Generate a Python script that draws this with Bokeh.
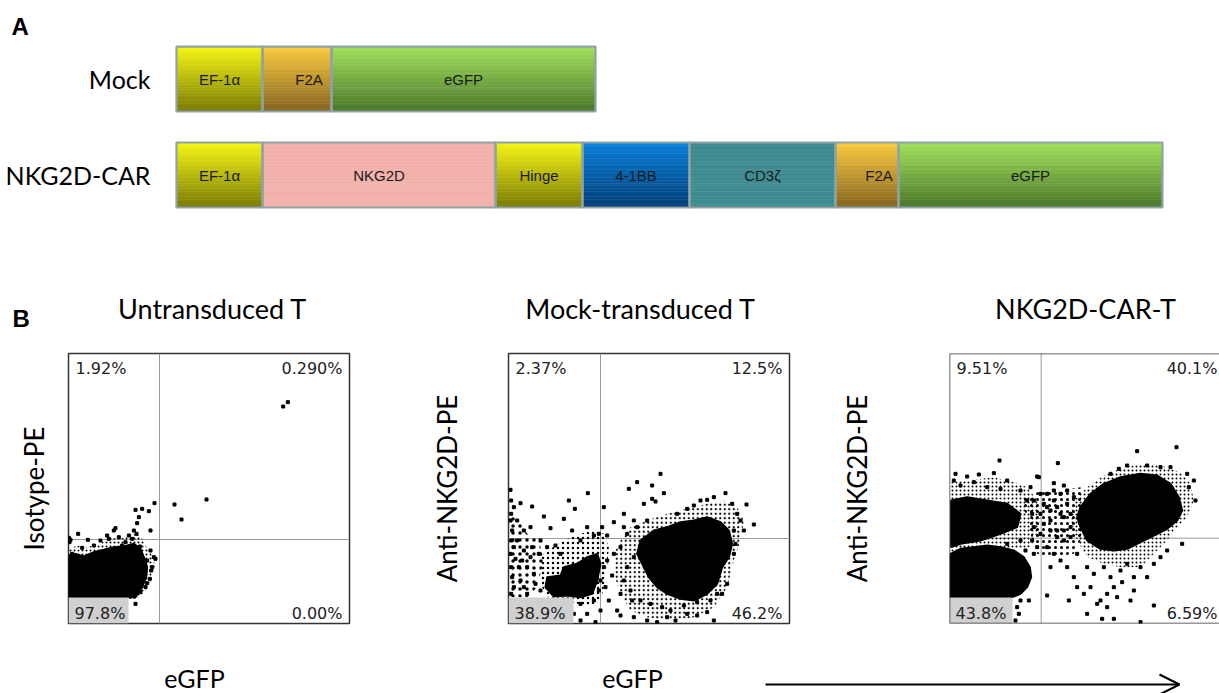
import numpy as np
from bokeh.plotting import figure
from bokeh.layouts import column, row
from bokeh.models import Range1d, Span, Arrow, OpenHead, FixedTicker
from bokeh.core.properties import value
from bokeh.embed import file_html
from bokeh.resources import INLINE

# ---------------- Panel A data (relative segment lengths) ----------------
constructs = ["Mock", "NKG2D-CAR"]
mock_segments = ["EF-1α", "F2A", "eGFP"]
mock_lengths = [86, 69, 264]
car_segments = ["EF-1α", "NKG2D", "Hinge", "4-1BB", "CD3ζ", "F2A", "eGFP"]
car_lengths = [86, 233, 87, 107, 146, 63, 264]

# ---------------- Panel B data (fluorescence channel units) ----------------
panel_titles = ["Untransduced T", "Mock-transduced T", "NKG2D-CAR-T"]
y_labels = ["Isotype-PE", "Anti-NKG2D-PE", "Anti-NKG2D-PE"]
x_label = "eGFP"
# quadrant percentages: upper-left, upper-right, lower-left, lower-right
untr_pct = ["1.92%", "0.290%", "97.8%", "0.00%"]
mock_pct = ["2.37%", "12.5%", "38.9%", "46.2%"]
car_pct = ["9.51%", "40.1%", "43.8%", "6.59%"]
gate_x = [273, 276, 275]
gate_y = [252, 255, 256]

# population outlines (eGFP, PE): speckled (medium density) and solid (dense) regions
untr_speckle_x = [1, 26, 56, 96, 126, 156, 186, 206, 221, 236, 256, 258, 248, 231, 206, 1]
untr_speckle_y = [224, 234, 229, 241, 257, 254, 264, 269, 254, 224, 199, 169, 129, 99, 74, 74]
untr_core_x = [1, 21, 46, 76, 106, 136, 166, 196, 216, 226, 236, 233, 221, 201, 1]
untr_core_y = [204, 209, 201, 214, 221, 229, 231, 239, 224, 199, 169, 139, 109, 79, 79]

mock_col_x = [2, 26, 56, 91, 106, 86, 56, 2]
mock_col_y = [329, 319, 269, 249, 189, 109, 79, 79]
mock_left_x = [91, 126, 166, 216, 256, 286, 301, 296, 286, 276, 246, 206, 156, 116, 96]
mock_left_y = [199, 224, 249, 269, 279, 269, 229, 169, 109, 69, 54, 59, 74, 79, 119]
mock_core_left_x = [111, 116, 156, 166, 206, 236, 266, 276, 266, 251, 216, 176, 136]
mock_core_left_y = [109, 139, 144, 169, 179, 199, 209, 179, 129, 89, 79, 84, 81]
mock_right_x = [336, 366, 416, 476, 536, 596, 646, 686, 706, 696, 676, 656, 616, 556, 486, 416, 366, 336, 316, 316]
mock_right_y = [249, 289, 309, 329, 344, 359, 369, 349, 309, 249, 189, 109, 49, 19, 9, 19, 39, 89, 149, 209]
mock_core_right_x = [396, 436, 476, 516, 556, 596, 636, 661, 671, 661, 641, 626, 596, 556, 516, 476, 446, 421, 401, 386]
mock_core_right_y = [249, 279, 289, 304, 309, 319, 304, 279, 239, 199, 169, 119, 89, 69, 74, 89, 109, 139, 179, 209]

car_up_x = [3, 53, 133, 193, 233, 263, 273, 263, 243, 3]
car_up_y = [424, 429, 439, 424, 409, 369, 319, 269, 229, 209]
car_core_up_x = [5, 53, 113, 173, 213, 203, 153, 93, 33, 5]
car_core_up_y = [369, 379, 369, 359, 329, 289, 269, 249, 239, 229]
car_core_low_x = [3, 33, 73, 113, 153, 193, 223, 241, 245, 233, 213, 188, 3]
car_core_low_y = [209, 224, 229, 234, 229, 219, 199, 169, 139, 109, 89, 79, 79]
car_bridge_x = [213, 273, 333, 393, 413, 403, 373, 313, 263, 243, 233]
car_bridge_y = [369, 399, 399, 409, 349, 269, 209, 199, 209, 269, 319]
car_right_x = [373, 413, 463, 513, 573, 633, 693, 723, 733, 713, 673, 653, 613, 573, 513, 463, 413, 383, 363]
car_right_y = [369, 409, 444, 464, 479, 474, 454, 419, 369, 319, 279, 249, 209, 169, 169, 179, 199, 249, 309]
car_core_right_x = [393, 423, 463, 513, 573, 623, 663, 688, 698, 683, 653, 613, 573, 533, 493, 453, 413, 393, 383]
car_core_right_y = [349, 389, 419, 439, 449, 444, 419, 379, 339, 309, 284, 264, 244, 224, 219, 224, 249, 289, 319]

# individual sparse events (eGFP, PE)
untr_events = [(29, 269), (58, 251), (141, 286), (151, 259), (116, 264), (136, 279), (201, 341), (221, 344),
               (241, 337), (258, 361), (211, 319), (206, 301), (196, 279), (246, 279), (318, 357), (339, 312),
               (414, 372), (644, 651), (658, 664), (201, 59), (256, 199), (251, 169), (244, 134), (216, 94),
               (231, 109), (6, 251), (171, 244), (96, 249), (181, 264), (191, 254), (236, 189), (226, 149),
               (261, 194), (246, 219), (204, 269), (214, 231), (41, 227), (76, 234), (121, 254), (161, 234),
               (248, 159), (236, 121), (1, 257), (3, 244), (11, 209)]
mock_events = [(6, 401), (36, 361), (71, 351), (106, 321), (126, 286), (181, 369), (199, 344), (238, 391),
               (166, 314), (191, 279), (236, 289), (286, 349), (361, 404), (386, 424), (431, 414), (456, 449),
               (466, 391), (406, 359), (431, 374), (441, 366), (651, 391), (714, 357), (736, 297), (686, 329),
               (671, 359), (616, 379), (576, 369), (596, 371), (536, 344), (506, 329), (556, 354), (346, 329),
               (376, 309), (316, 304), (281, 289), (296, 264), (271, 269), (256, 264), (216, 249), (66, 289),
               (46, 279), (26, 309), (8, 329), (8, 369), (16, 349),
               (6, 309), (11, 279), (8, 249), (16, 229), (6, 209), (21, 194), (8, 169), (31, 169), (11, 139),
               (36, 129), (16, 109), (46, 109), (8, 89), (56, 89), (26, 249), (46, 219), (66, 199), (56, 169),
               (76, 149), (81, 119), (41, 189), (71, 229), (91, 209), (96, 249), (116, 229), (141, 234),
               (156, 209), (11, 59),
               (276, 129), (286, 169), (271, 99), (256, 69), (216, 59), (196, 29), (216, 9), (236, 29), (261, 4),
               (96, 99), (116, 109), (291, 109), (301, 69), (276, 39),
               (326, 39), (336, 24), (376, 19), (416, 9), (446, 4), (476, 19), (501, 9), (536, 29), (566, 24),
               (596, 34), (616, 9), (641, 89), (656, 119), (336, 89), (346, 129), (311, 144), (296, 189),
               (316, 209), (336, 229), (356, 269), (346, 289), (386, 289), (416, 309), (676, 209), (681, 239),
               (706, 279), (696, 309), (676, 279), (371, 69), (396, 69), (426, 59), (461, 49), (486, 39),
               (526, 54), (566, 64), (606, 69), (626, 89), (366, 99), (356, 169), (376, 199)]
car_events = [(150, 489), (325, 481), (563, 517), (681, 529), (133, 451), (88, 447), (53, 441), (18, 449),
              (173, 429), (263, 441), (313, 421), (343, 414), (483, 449), (713, 449), (733, 429), (738, 369),
              (718, 409), (633, 469), (593, 474), (663, 469), (508, 464), (533, 474),
              (253, 369), (273, 389), (293, 349), (313, 369), (333, 329), (353, 359), (303, 309), (323, 279),
              (273, 269), (253, 289), (293, 229), (313, 209), (343, 249), (363, 289), (383, 209), (263, 229),
              (253, 209), (248, 249), (273, 329), (333, 389), (283, 359), (303, 339), (323, 349), (343, 319),
              (283, 299), (303, 279), (323, 259), (343, 279), (363, 259), (363, 329), (293, 389), (313, 399),
              (353, 399), (373, 379),
              (303, 169), (333, 189), (353, 169), (373, 139), (413, 169), (433, 149), (463, 169), (483, 139),
              (493, 109), (473, 89), (453, 69), (473, 49), (443, 59), (513, 159), (533, 179), (553, 139),
              (573, 169), (593, 139), (613, 179), (633, 199), (653, 219), (698, 239), (613, 54), (573, 4),
              (493, 14), (458, 14), (413, 29), (358, 69), (293, 84), (238, 69), (213, 69), (203, 49), (198, 9),
              (208, 29), (383, 109), (403, 89), (423, 109), (503, 79), (518, 124), (553, 99), (543, 69),
              (13, 429), (33, 414), (73, 424), (113, 409), (153, 404), (213, 399), (233, 369), (248, 329),
              (243, 409), (268, 439), (213, 249), (173, 239), (228, 219)]

# ---------------- styles ----------------
SEG_COLORS = {
    "EF-1α": ("#f7f715", "#7a7a03"),
    "Hinge": ("#f7f715", "#7a7a03"),
    "F2A": ("#fccb40", "#85641f"),
    "eGFP": ("#a2e25c", "#4b762a"),
    "NKG2D": ("#f2b1aa", "#f2b1aa"),
    "4-1BB": ("#0a80dc", "#003e76"),
    "CD3ζ": ("#3e8b90", "#3e8b90"),
}
BANDS = 24
BAR_H = 0.677
SEG_LINE = "#8fa3a7"
CAL = "Lato"
W_TOTAL = 1219


def hex_rgb(h):
    h = h.lstrip("#")
    return [int(h[i:i + 2], 16) for i in (0, 2, 4)]


def blend(c1, c2, t):
    a, b = hex_rgb(c1), hex_rgb(c2)
    return "#%02x%02x%02x" % tuple(int(round(a[i] + (b[i] - a[i]) * t)) for i in range(3))


def bare(p):
    p.grid.visible = False
    p.outline_line_color = None
    return p


# ---------------- Panel A (and panel-B headings) ----------------
pa = bare(figure(width=W_TOTAL, height=340, x_range=Range1d(-176, 1043), y_range=Range1d(-1.724, 1.818),
                 output_backend="svg", toolbar_location=None, min_border=0,
                 x_axis_location=None, y_axis_location=None))

row_pos = {"Mock": 1, "NKG2D-CAR": 0}
for name, segs, lens in [("Mock", mock_segments, mock_lengths), ("NKG2D-CAR", car_segments, car_lengths)]:
    yc = row_pos[name]
    rights = np.cumsum(lens).astype(float)
    lefts = rights - np.array(lens, dtype=float)
    L, R, T, B, C = [], [], [], [], []
    for seg, l, r in zip(segs, lefts, rights):
        c_top, c_bot = SEG_COLORS[seg]
        for k in range(BANDS):
            L.append(l)
            R.append(r)
            T.append(yc + BAR_H / 2 - k * BAR_H / BANDS)
            B.append(yc + BAR_H / 2 - (k + 1) * BAR_H / BANDS)
            C.append(blend(c_top, c_bot, (k + 0.5) / BANDS))
    pa.quad(left=L, right=R, top=T, bottom=B, fill_color=C, line_color=C, line_width=0.5)
    pa.quad(left=lefts, right=rights, top=yc + BAR_H / 2, bottom=yc - BAR_H / 2,
            fill_color=None, line_color=SEG_LINE, line_width=2.2)
    shift = np.array([12.0 if s == "F2A" else 0.0 for s in segs])
    pa.text(x=(lefts + rights) / 2 + shift, y=[yc] * len(segs), text=segs,
            text_align="center", text_baseline="middle",
            text_font=value("Liberation Sans"), text_font_size="15px", text_color="#1a1a1a")

pa.text(x=[-26, -26], y=[row_pos[c] for c in constructs], text=constructs,
        text_align="right", text_baseline="middle",
        text_font=value(CAL), text_font_size="25px", text_color="black")
pa.text(x=[-165, -164], y=[1.552, -1.500], text=["A", "B"], text_align="left", text_baseline="middle",
        text_font=value("Liberation Sans"), text_font_style="bold", text_font_size="24px", text_color="black")
pa.text(x=[36, 464, 909], y=[-1.390] * 3, text=panel_titles, text_align="center", text_baseline="middle",
        text_font=value(CAL), text_font_size="27px", text_color="black")

# ---------------- Panel B scatter plots ----------------
FIG_W = [425, 405, 389]
BORDER_L = [68, 83, 119]
BORDER_R = [76, 41, 0]
X_END = [843, 843, 810]
AX_STANDOFF = [19, 46, 77]
GRAY_W = [180, 195, 189]
FULL_W = 843
FULL_H = 810

pcts = [untr_pct, mock_pct, car_pct]
events = [untr_events, mock_events, car_events]
# (outline x, outline y, hatch spacing, hatch dot weight)
speckles = [
    [(untr_speckle_x, untr_speckle_y, 4, 2.5)],
    [(mock_col_x, mock_col_y, 7, 2), (mock_left_x, mock_left_y, 5, 2), (mock_right_x, mock_right_y, 4.5, 2.2)],
    [(car_up_x, car_up_y, 4, 2.5), (car_bridge_x, car_bridge_y, 6, 2), (car_right_x, car_right_y, 4, 2.5)],
]
cores = [
    [(untr_core_x, untr_core_y)],
    [(mock_core_left_x, mock_core_left_y), (mock_core_right_x, mock_core_right_y)],
    [(car_core_low_x, car_core_low_y), (car_core_up_x, car_core_up_y), (car_core_right_x, car_core_right_y)],
]

figs = []
for i in range(3):
    p = figure(width=FIG_W[i], height=300, x_range=Range1d(0, X_END[i]), y_range=Range1d(0, FULL_H),
               output_backend="svg", toolbar_location=None, x_axis_location=None,
               min_border_left=BORDER_L[i], min_border_right=BORDER_R[i],
               min_border_top=13, min_border_bottom=17)
    p.grid.visible = False
    ax = p.yaxis[0]
    ax.ticker = FixedTicker(ticks=[])
    ax.axis_line_color = None
    ax.major_tick_line_color = None
    ax.minor_tick_line_color = None
    ax.major_label_text_font_size = "0px"
    ax.axis_label = y_labels[i]
    ax.axis_label_text_font = CAL
    ax.axis_label_text_font_size = "26px"
    ax.axis_label_text_font_style = "normal"
    ax.axis_label_text_color = "black"
    ax.axis_label_standoff = AX_STANDOFF[i]

    if i < 2:
        p.outline_line_color = "#333333"
        p.outline_line_width = 1.5
    else:
        p.outline_line_color = None
        for loc, dim in [(0, "height"), (0, "width"), (FULL_H, "width")]:
            p.add_layout(Span(location=loc, dimension=dim, line_color="#333333", line_width=1.5))

    p.add_layout(Span(location=gate_x[i], dimension="height", line_color="#9a9a9a", line_width=1,
                      level="underlay"))
    p.add_layout(Span(location=gate_y[i], dimension="width", line_color="#9a9a9a", line_width=1,
                      level="underlay"))

    for sx, sy, sc, sw in speckles[i]:
        p.patch(sx, sy, fill_color=None, line_color=None, hatch_pattern="dot", hatch_color="black",
                hatch_scale=sc, hatch_weight=sw)
    for cx, cy in cores[i]:
        p.patch(cx, cy, fill_color="black", line_color="black", line_width=2)
    ex, ey = zip(*events[i])
    p.scatter(list(ex), list(ey), marker="square", size=3, color="black")

    p.quad(left=0, right=GRAY_W[i], bottom=0, top=78, fill_color="#d0d0d0", line_color=None)

    pc = pcts[i]
    x_right = min(FULL_W - 21, X_END[i] - 6)
    p.text(x=[21, 18], y=[766, 31], text=[pc[0], pc[2]], text_align="left", text_baseline="middle",
           text_font=value("DejaVu Sans"), text_font_size="16px", text_color="#222222")
    p.text(x=[x_right, x_right], y=[766, 31], text=[pc[1], pc[3]], text_align="right",
           text_baseline="middle", text_font=value("DejaVu Sans"), text_font_size="16px",
           text_color="#222222")
    figs.append(p)

# ---------------- bottom strip: x-axis captions and direction arrow ----------------
pb = bare(figure(width=W_TOTAL, height=53, x_range=Range1d(0, W_TOTAL), y_range=Range1d(0, 53),
                 output_backend="svg", toolbar_location=None, min_border=0,
                 x_axis_location=None, y_axis_location=None))
pb.text(x=[194, 632], y=[16, 16], text=[x_label, x_label], text_align="center", text_baseline="middle",
        text_font=value(CAL), text_font_size="25px", text_color="black")
pb.add_layout(Arrow(end=OpenHead(size=20, line_width=2, line_color="black"),
                    x_start=765, y_start=9, x_end=1179, y_end=9, line_width=2, line_color="black"))

layout = column(pa, row(*figs), pb)
open("out.html", "w").write(file_html(layout, INLINE))
